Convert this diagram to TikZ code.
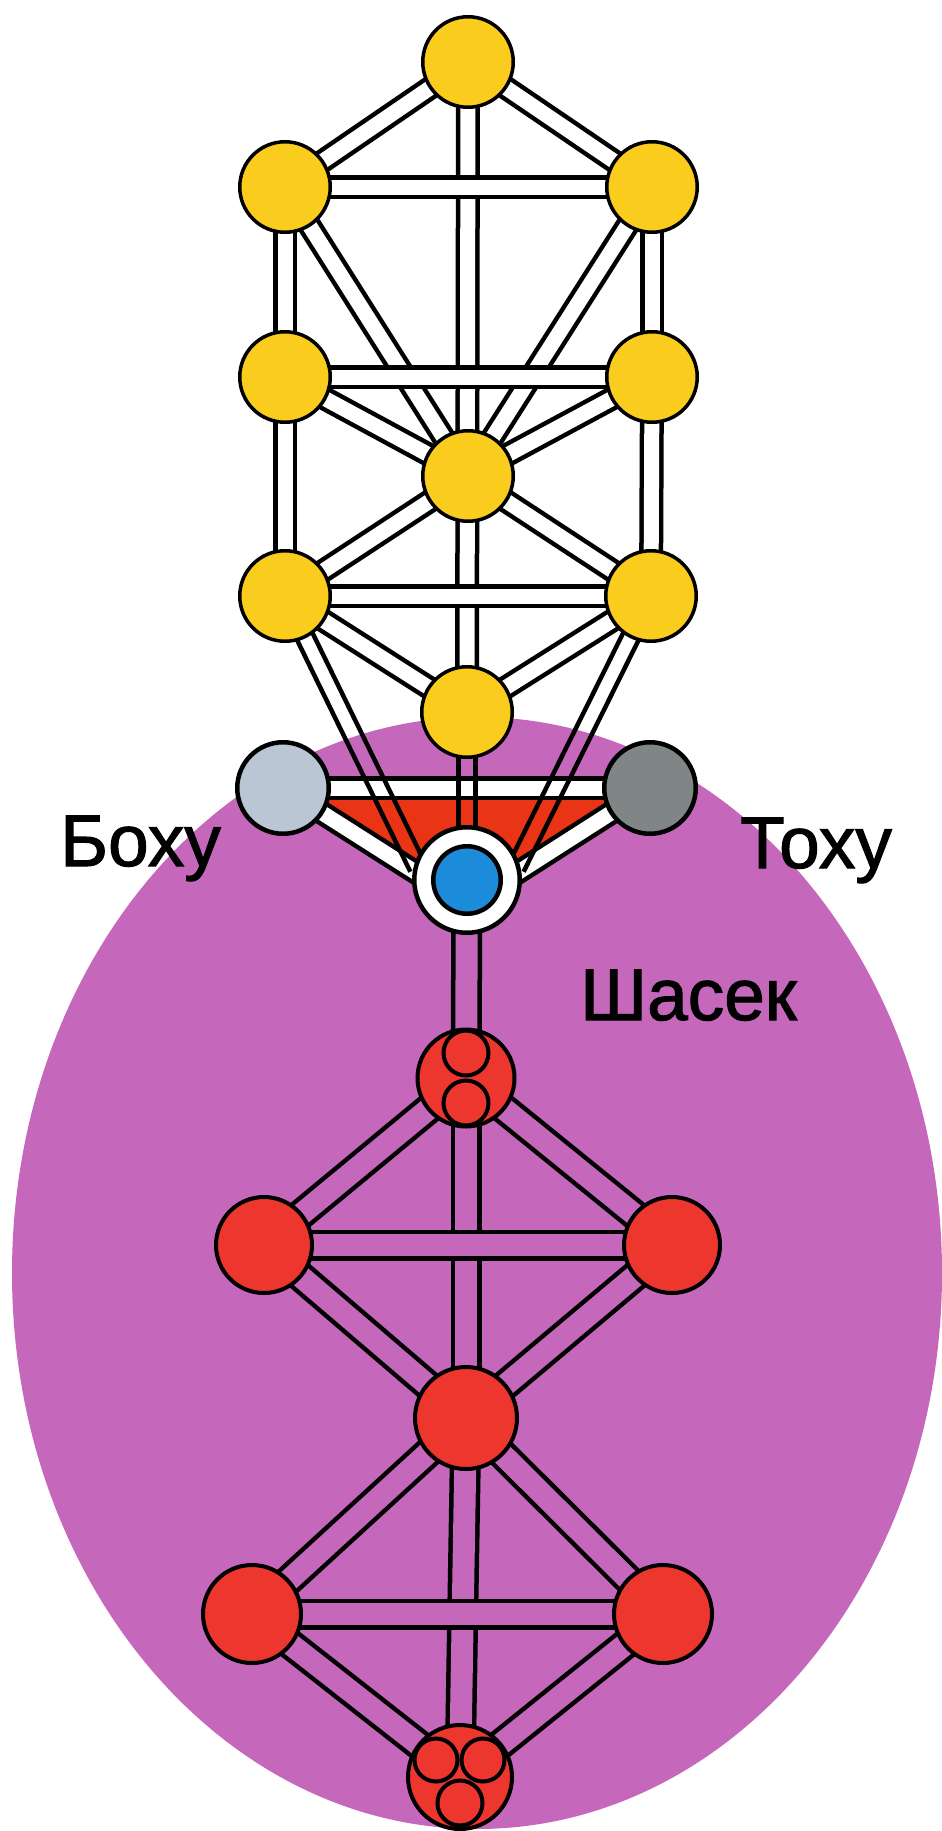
\documentclass[tikz,border=0pt]{standalone}
\usepackage{fontspec}
\setmainfont{Liberation Sans}
\newfontfamily\lblfont[FakeBold=1.5]{Liberation Sans}
\usetikzlibrary{calc}
\definecolor{yel}{RGB}{249,204,30}
\definecolor{purp}{RGB}{197,104,188}
\definecolor{rednode}{RGB}{236,54,46}
\definecolor{redtri}{RGB}{234,52,22}
\definecolor{grayLc}{RGB}{186,198,212}
\definecolor{grayRc}{RGB}{128,134,134}
\definecolor{bluec}{RGB}{28,140,218}
\pgfdeclarelayer{bg}
\pgfdeclarelayer{chan}
\pgfsetlayers{bg,chan,main}
\begin{document}
\begin{tikzpicture}[x=1pt,y=-1pt,
  wchan/.style={draw=black,line width=4.5pt,double=white,double distance=15pt},
  pchan/.style={draw=black,line width=4.5pt,double=purp,double distance=22pt},
  pairline/.style={draw=black,line width=4.5pt,
    to path={($(\tikztostart)!#1!90:(\tikztotarget)$) -- ($(\tikztotarget)!#1!-90:(\tikztostart)$)
      ($(\tikztostart)!#1!-90:(\tikztotarget)$) -- ($(\tikztotarget)!#1!90:(\tikztostart)$)}},
  ynode/.style={circle,draw=black,line width=3.5pt,fill=yel,minimum size=90.5pt,inner sep=0pt},
  gnode/.style={circle,draw=black,line width=4.5pt,minimum size=91.5pt,inner sep=0pt},
  rnode/.style={circle,draw=black,line width=4pt,fill=rednode,minimum size=#1,inner sep=0pt},
  lbl/.style={font=\lblfont\fontsize{73}{73}\selectfont,inner sep=0pt,text=black,anchor=base west}
]
\useasboundingbox (0,0) rectangle (942,1831);
% ---------- nodes ----------
\node[ynode] (Y1) at (468,62) {};
\node[ynode] (Y2) at (285,187) {};
\node[ynode] (Y3) at (652,187) {};
\node[ynode] (Y4) at (285,377) {};
\node[ynode] (Y5) at (652,377) {};
\node[ynode] (Y6) at (468,476) {};
\node[ynode] (Y7) at (285,596) {};
\node[ynode] (Y8) at (651,596) {};
\node[ynode] (Y9) at (467,712) {};
\node[gnode,fill=grayLc] (GL) at (283,788) {};
\node[gnode,fill=grayRc] (GR) at (650,788) {};
\node[circle,draw=black,line width=4.5pt,fill=white,minimum size=105.5pt,inner sep=0pt] (BL) at (467,880) {};
\node[circle,draw=black,line width=4.5pt,fill=bluec,minimum size=67.5pt,inner sep=0pt] (BLi) at (BL) {};
\coordinate (vtip) at (467,905);
\coordinate (ltip) at (418,868);
\coordinate (rtip) at (516,868);
\node[rnode=97pt] (R1) at (466,1078) {};
\node[rnode=45pt] (R1a) at ($(R1)+(0,-25)$) {};
\node[rnode=45pt] (R1b) at ($(R1)+(0,25)$) {};
\node[rnode=96pt] (R2) at (264,1245) {};
\node[rnode=96pt] (R3) at (672,1245) {};
\node[rnode=102pt] (R4) at (466,1418) {};
\node[rnode=98pt] (R5) at (252,1614) {};
\node[rnode=98pt] (R6) at (663,1614) {};
\node[rnode=104pt] (R7) at (460,1777) {};
\node[rnode=43pt] (R7a) at ($(R7)+(-24,-17)$) {};
\node[rnode=43pt] (R7b) at ($(R7)+(23,-17)$) {};
\node[rnode=45pt] (R7c) at ($(R7)+(0,26)$) {};
% ---------- labels ----------
\node[lbl] (boxu) at (60,866) {Боху};
\node[lbl] (toxu) at (740,868) {Тоху};
\node[lbl] (shasek) at (580,1020) {Шасек};
% ---------- background ----------
\begin{pgfonlayer}{bg}
\fill[white] (0,0) rectangle (942,1831);
\fill[purp] (477,1273) ellipse [x radius=465, y radius=556];
\fill[redtri] (GL.center) -- (GR.center) -- (vtip) -- cycle;
\end{pgfonlayer}
% ---------- channels ----------
\begin{pgfonlayer}{chan}
\draw[wchan] (Y1.center) -- (Y2.center);
\draw[wchan] (Y1.center) -- (Y3.center);
\draw[wchan] (Y1.center) -- (Y9.center);
\draw[wchan] (Y2.center) -- (Y4.center);
\draw[wchan] (Y3.center) -- (Y5.center);
\draw[wchan] (Y2.center) -- (Y6.center);
\draw[wchan] (Y3.center) -- (Y6.center);
\draw[wchan] (Y4.center) -- (Y6.center);
\draw[wchan] (Y5.center) -- (Y6.center);
\draw[wchan] (Y4.center) -- (Y7.center);
\draw[wchan] (Y5.center) -- (Y8.center);
\draw[wchan] (Y6.center) -- (Y7.center);
\draw[wchan] (Y6.center) -- (Y8.center);
\draw[wchan] (Y7.center) -- (Y9.center);
\draw[wchan] (Y8.center) -- (Y9.center);
\draw[wchan] (Y2.center) -- (Y3.center);
\draw[wchan] (Y4.center) -- (Y5.center);
\draw[wchan] (Y7.center) -- (Y8.center);
\draw[wchan] (GL.center) -- (vtip);
\draw[wchan] (GR.center) -- (vtip);
\draw[wchan] (GL.center) -- (GR.center);
\draw[pairline=8.5pt] (Y9) to (BL);
\draw[pairline=8.5pt] (Y7) to (ltip);
\draw[pairline=8.5pt] (Y8) to (rtip);
% lower tree
\draw[pchan] (BL.center) -- (R1.center);
\draw[pchan] (R1.center) -- (R4.center);
\draw[pchan] (R4.center) -- (R7.center);
\draw[pchan] (R1.center) -- (R2.center);
\draw[pchan] (R1.center) -- (R3.center);
\draw[pchan] (R2.center) -- (R4.center);
\draw[pchan] (R3.center) -- (R4.center);
\draw[pchan] (R4.center) -- (R5.center);
\draw[pchan] (R4.center) -- (R6.center);
\draw[pchan] (R5.center) -- (R7.center);
\draw[pchan] (R6.center) -- (R7.center);
\draw[pchan] (R2.center) -- (R3.center);
\draw[pchan] (R5.center) -- (R6.center);
\end{pgfonlayer}
\end{tikzpicture}
\end{document}
